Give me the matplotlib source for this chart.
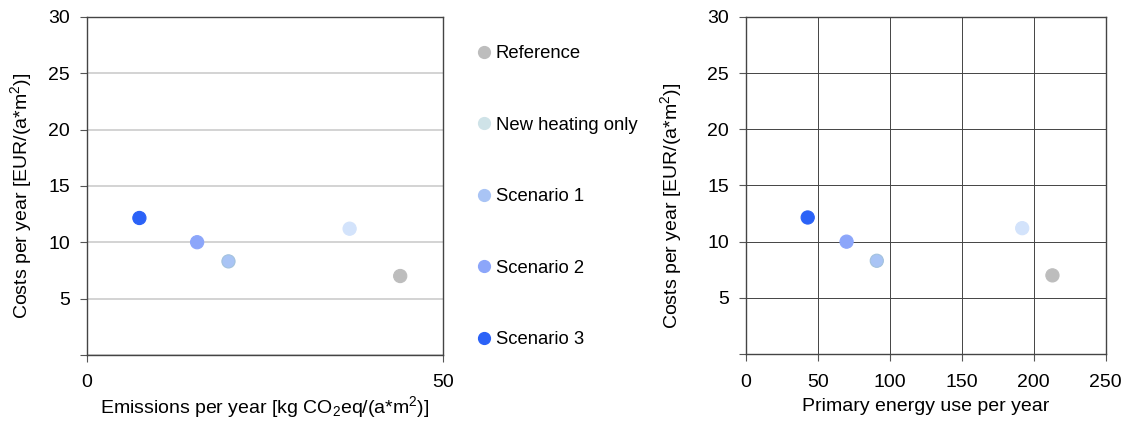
import matplotlib
matplotlib.use("Agg")
import matplotlib.pyplot as plt
from matplotlib.lines import Line2D

plt.rcParams['font.family'] = ['Liberation Sans', 'DejaVu Sans']
plt.rcParams['mathtext.default'] = 'regular'

names = ["Reference", "New heating only", "Scenario 1", "Scenario 2", "Scenario 3"]
emissions = [44.0, 36.9, 19.9, 15.5, 7.4]
primary_energy = [213, 192, 91, 70, 43]
costs = [7.0, 11.2, 8.3, 10.0, 12.15]
colors = ["#bdbdbd", "#d3e3fb", "#a9c4f5", "#8ca6fa", "#2b62f7"]
edges = ["#bdbdbd", "#d3e3fb", "#a3c2dd", "#8ca6fa", "#2b62f7"]
legend_colors = ["#bdbdbd", "#cfe3e8", "#a9c4f5", "#8ca6fa", "#2b62f7"]

fs = 14
fig = plt.figure(figsize=(11.30, 4.21), dpi=100)
ax1 = fig.add_axes([0.0767, 0.157, 0.3153, 0.803])
ax2 = fig.add_axes([0.660, 0.159, 0.3185, 0.801])

for ax in (ax1, ax2):
    ax.set_ylim(0, 30)
    ax.set_yticks([0, 5, 10, 15, 20, 25, 30])
    ax.set_yticklabels(["", "5", "10", "15", "20", "25", "30"])
    ax.tick_params(labelsize=fs, length=5, width=0.8, color="#555555")
    ax.tick_params(axis='y', pad=7)
    ax.tick_params(axis='x', pad=9)
    for s in ax.spines.values():
        s.set_color("#444444")
        s.set_linewidth(1.0)
    ax.set_ylabel("Costs per year [EUR/(a*m$^2$)]", fontsize=fs)
    ax.set_axisbelow(True)

ax1.yaxis.set_label_coords(-0.149, 0.47)
ax2.yaxis.set_label_coords(-0.171, 0.44)

ax1.set_xlim(0, 50)
ax1.set_xticks([0, 50])
ax1.yaxis.grid(True, color="#cccccc", linewidth=1.2)
ax1.set_xlabel("Emissions per year [kg CO$_2$eq/(a*m$^2$)]", fontsize=fs, labelpad=2)
ax1.scatter(emissions, costs, s=90, c=colors, edgecolors=edges, linewidths=0.8, zorder=3)

ax2.set_xlim(0, 250)
ax2.set_xticks([0, 50, 100, 150, 200, 250])
ax2.grid(True, color="#444444", linewidth=0.7)
ax2.set_xlabel("Primary energy use per year", fontsize=fs, labelpad=5.5)
ax2.scatter(primary_energy, costs, s=90, c=colors, edgecolors=edges, linewidths=0.8, zorder=3)

handles = [Line2D([], [], marker='o', linestyle='none', markersize=8.5,
                  markerfacecolor=c, markeredgecolor=c) for c in legend_colors]
fig.legend(handles, names, loc="upper left", bbox_to_anchor=(0.411, 0.91),
           frameon=False, fontsize=13.3, labelspacing=2.95, handletextpad=0.0,
           handlelength=1.3, borderaxespad=0)

fig.savefig("out.png", dpi=100)
